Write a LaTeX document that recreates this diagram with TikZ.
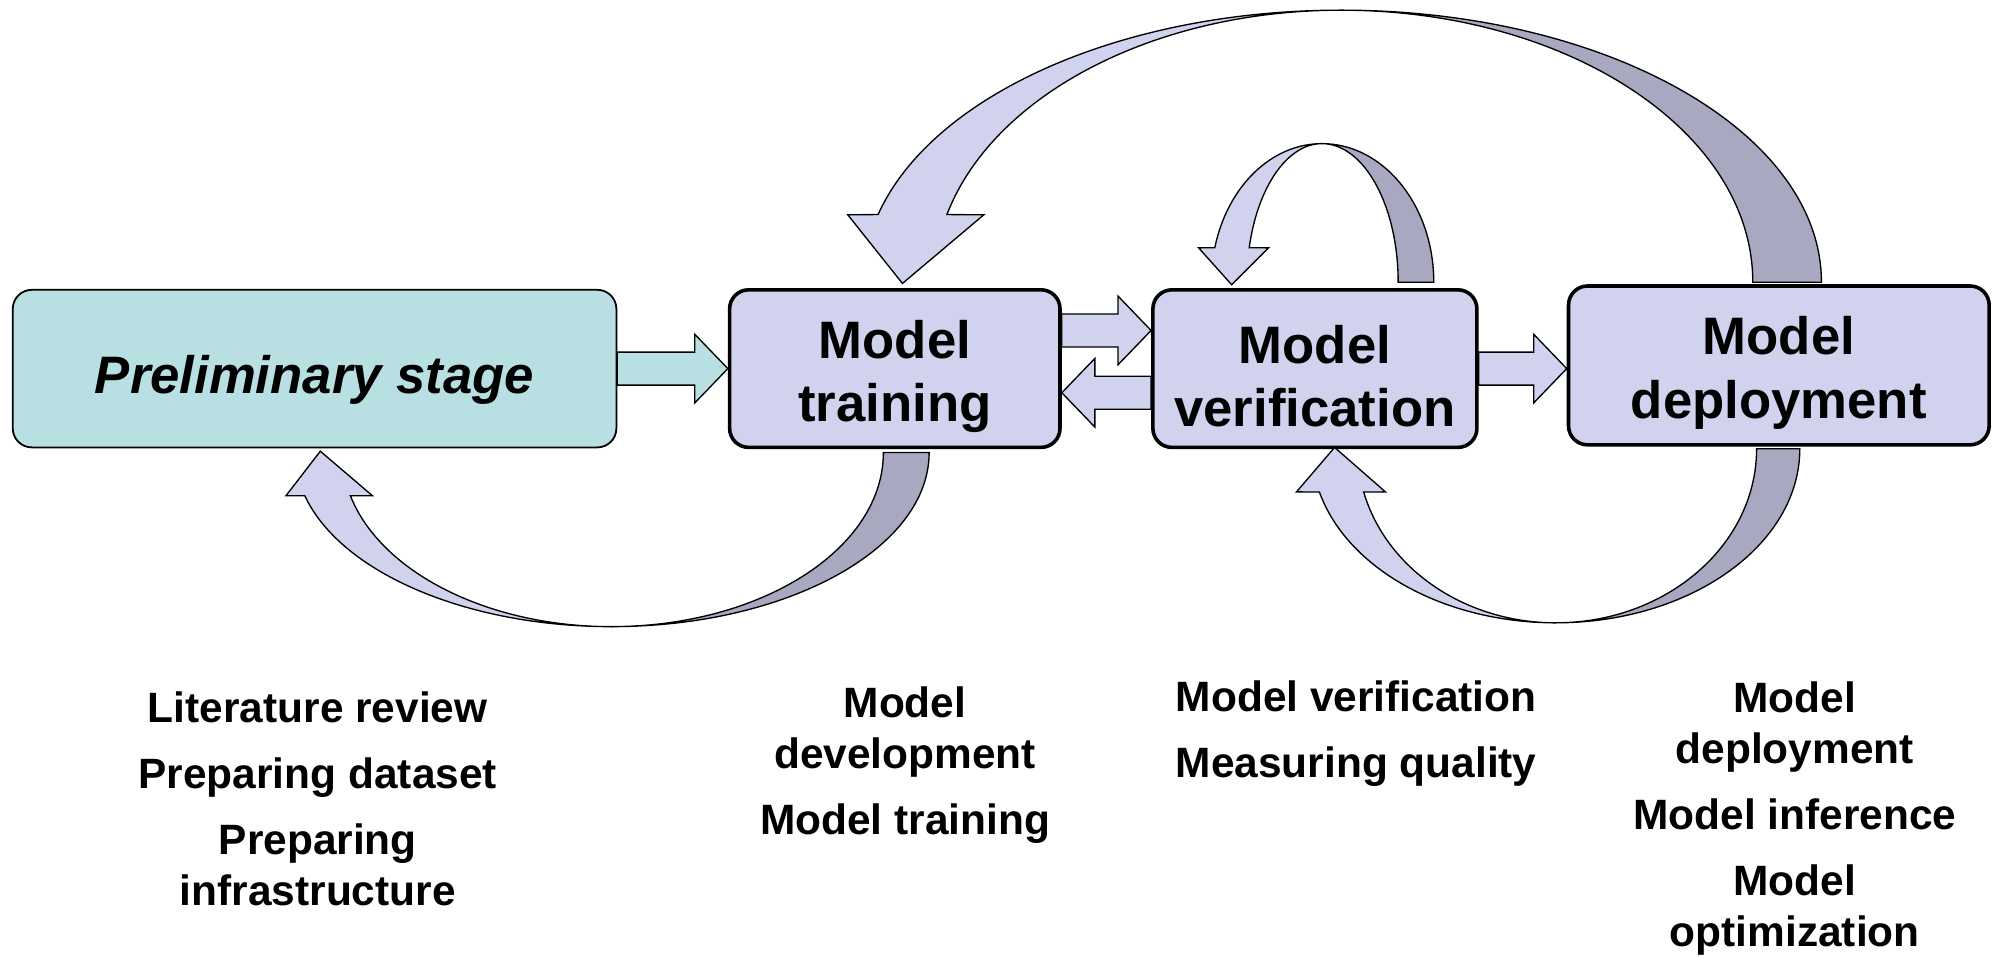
\documentclass[tikz,border=0pt]{standalone}
\usepackage{fontspec}
\setmainfont{Liberation Sans}
\usetikzlibrary{calc}

\definecolor{stagefill}{RGB}{184,224,226}
\definecolor{boxfill}{RGB}{208,210,238}
\definecolor{backfill}{RGB}{168,168,192}

\tikzset{
  stagebox/.style={draw, rounded corners=0.3cm, fill=boxfill, line width=1.6pt,
    minimum height=2.48cm},
  stage/.style={stagebox, label={[align=center, yshift=-0.12cm,
    font=\bfseries\fontsize{23.6}{28.4}\selectfont]center:#1}},
  prelimbox/.style={stagebox, fill=stagefill, line width=0.8pt,
    execute at begin node=\rule{0pt}{27pt},
    font=\bfseries\itshape\fontsize{23.6}{28.4}\selectfont},
  band/.style={draw, line width=0.6pt, fill=boxfill},
  backband/.style={band, fill=backfill},
  tasklist/.style={align=center, font=\bfseries\fontsize{19}{22.8}\selectfont},
}

% flat block arrow: style, from, to (only the x of "to" is used)
\newcommand{\flatarrow}[3]{%
  \draw[#1] let \p1=(#2), \p2=(#3), \n1={(\x2-\x1)/abs(\x2-\x1)} in
    (\x1,{\y1+0.26cm}) -- ({\x2-(\n1)*0.52cm},{\y1+0.26cm})
    -- ({\x2-(\n1)*0.52cm},{\y1+0.54cm}) -- (\x2,\y1)
    -- ({\x2-(\n1)*0.52cm},{\y1-0.54cm}) -- ({\x2-(\n1)*0.52cm},{\y1-0.26cm})
    -- (\x1,{\y1-0.26cm}) -- cycle;
}

\begin{document}
\begin{tikzpicture}[x=0.02cm, y=-0.02cm]
  \useasboundingbox (0,0) rectangle (1568,753);

  \node[prelimbox, minimum width=9.5cm] (prelim) at (247.5,290) {Preliminary stage};
  \node[stage={Model\\training}, minimum width=5.2cm] (train) at (704,290) {};
  \node[stage={Model\\verification}, minimum width=5.1cm] (verif) at (1034.5,290) {};
  \node[stage={Model\\deployment}, minimum width=6.62cm, minimum height=2.5cm] (deploy) at (1399.5,287.5) {};

  \flatarrow{band, fill=stagefill}{prelim.east}{train.west}
  \flatarrow{band}{$(train.east)+(0,-30)$}{verif.west}
  \flatarrow{band}{$(verif.west)+(0,19)$}{train.east}
  \flatarrow{band}{verif.east}{deploy.west}

  \coordinate (bigtop) at (1055,222);
  \coordinate (selfloop) at (1040,222);
  \coordinate (backleft) at (481,356);
  \coordinate (backright) at (1224,353);

  % deployment back to training
  \draw[backband] ($(bigtop)+(378,0)$) arc[start angle=0, end angle=-90, x radius=378, y radius=214]
    arc[start angle=-90, end angle=0, x radius=324, y radius=214] -- cycle;
  \draw[band] ($(bigtop)+(0,-214)$) arc[start angle=-90, end angle=-165.6, x radius=376, y radius=214]
    -- (667,169) -- (710,223) -- (774,169) -- ($(bigtop)+(-310,-53.2)$)
    arc[start angle=-165.6, end angle=-90, x radius=320, y radius=214] -- cycle;

  % verification on itself
  \draw[backband] ($(selfloop)+(88,0)$) arc[start angle=0, end angle=-90, x radius=88, y radius=109]
    arc[start angle=-90, end angle=0, x radius=60, y radius=109] -- cycle;
  \draw[band] ($(selfloop)+(0,-109)$) arc[start angle=-90, end angle=-165.6, x radius=87, y radius=109]
    -- (943,195) -- (969,224) -- (998,195) -- ($(selfloop)+(-57.2,-27.1)$)
    arc[start angle=-165.6, end angle=-90, x radius=59, y radius=109] -- cycle;

  % training back to preliminary stage
  \draw[backband] ($(backleft)+(250,0)$) arc[start angle=0, end angle=90, x radius=250, y radius=137]
    arc[start angle=90, end angle=0, x radius=214, y radius=137] -- cycle;
  \draw[band] ($(backleft)+(0,137)$) arc[start angle=90, end angle=165.6, x radius=249, y radius=137]
    -- (225,390) -- (252,355) -- (293,390) -- ($(backleft)+(-205.3,34.1)$)
    arc[start angle=165.6, end angle=90, x radius=212, y radius=137] -- cycle;

  % deployment back to verification
  \draw[backband] ($(backright)+(192,0)$) arc[start angle=0, end angle=90, x radius=192, y radius=137]
    arc[start angle=90, end angle=0, x radius=158, y radius=137] -- cycle;
  \draw[band] ($(backright)+(0,137)$) arc[start angle=90, end angle=165.6, x radius=192, y radius=137]
    -- (1020,387) -- (1050,352) -- (1090,387) -- ($(backright)+(-151.1,34.1)$)
    arc[start angle=165.6, end angle=90, x radius=156, y radius=137] -- cycle;

  \node[tasklist] (preptasks) at (250,628.5) {Literature review\\[0.24cm] Preparing dataset\\[0.24cm] Preparing\\infrastructure};
  \node[tasklist] (traintasks) at (712,602) {Model\\development\\[0.24cm] Model training};
  \node[tasklist] (veriftasks) at (1067,577.5) {Model verification\\[0.24cm] Measuring quality};
  \node[tasklist] (deploytasks) at (1412,644) {Model\\deployment\\[0.24cm] Model inference\\[0.24cm] Model\\optimization};
\end{tikzpicture}
\end{document}
